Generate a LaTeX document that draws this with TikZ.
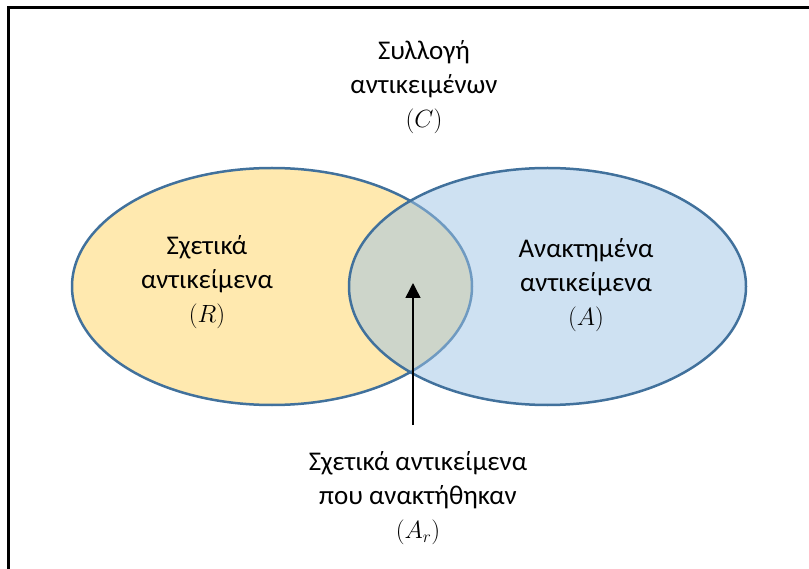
\documentclass[tikz,border=0pt]{standalone}
\usepackage{fontspec}
\setmainfont{Carlito}
\usetikzlibrary{arrows.meta,shapes.geometric}
\definecolor{outl}{HTML}{41719C}
\definecolor{yel}{HTML}{FFE9AF}
\definecolor{blu}{HTML}{9DC3E6}
\tikzset{
  lbl/.style={align=center, font=\fontsize{27}{34}\selectfont, inner sep=0pt},
  setshape/.style={ellipse, draw=outl, line width=2.5pt, inner sep=0pt, minimum height=237pt},
}
\begin{document}
\begin{tikzpicture}[x=1pt,y=-1pt]
\useasboundingbox (0,0) rectangle (809,569);
% frame (only top and left visible)
\coordinate (fb) at (8,569);
\coordinate (fc) at (8,8);
\coordinate (fr) at (809,8);
\draw[line width=3pt] (fb) -- (fc) -- (fr);
% sets
\node[setshape, fill=yel, minimum width=400pt] (Rset) at (272,286.5) {};
\node[setshape, fill=blu, fill opacity=0.5, minimum width=397pt] (Aset) at (547.5,286.5) {};
\coordinate (lens) at (413,283);
% labels
\node[lbl] (C) at (424,87) {Συλλογή\\αντικειμένων\\$(C)$};
\node[lbl] (R) at (207,282) {Σχετικά\\αντικείμενα\\$(R)$};
\node[lbl] (A) at (586,285) {Ανακτημένα\\αντικείμενα\\$(A)$};
\node[lbl] (Ar) at (418,498) {Σχετικά αντικείμενα\\που ανακτήθηκαν\\$(A_r)$};
\coordinate (tail) at (413,425);
\draw[line width=1.5pt, -{Triangle[length=15pt,width=15pt]}] (tail) -- (lens);
\end{tikzpicture}
\end{document}
